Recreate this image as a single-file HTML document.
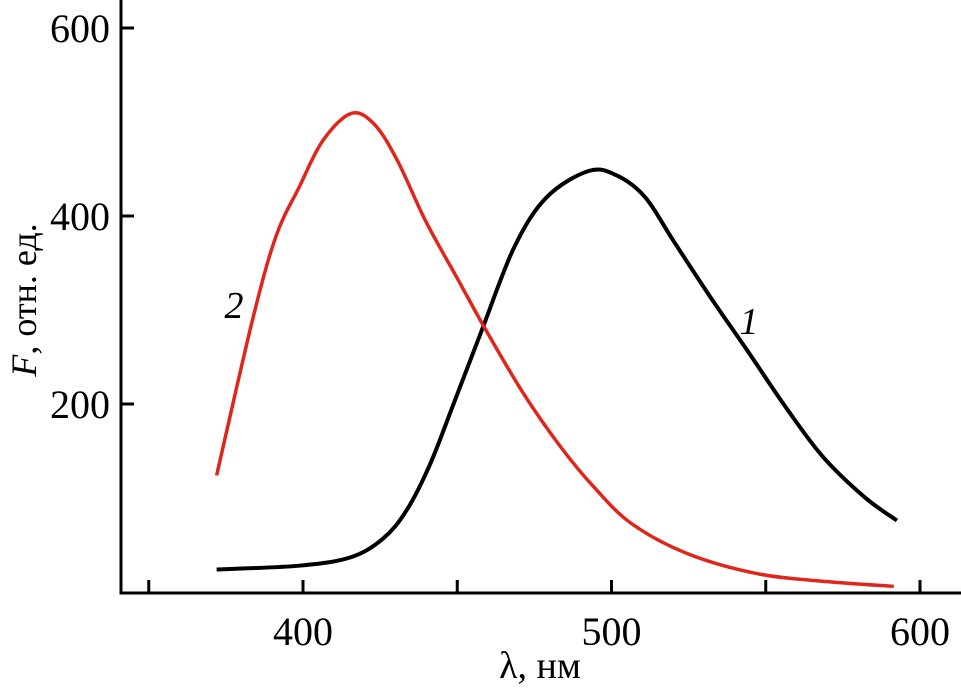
<!DOCTYPE html>
<html><head><meta charset="utf-8"><style>
html,body{margin:0;padding:0;background:#fff}
text{font-family:"Liberation Serif",serif;fill:#000}
</style></head><body>
<svg id="chart" width="961" height="691" viewBox="0 0 961 691" xmlns="http://www.w3.org/2000/svg">
<g id="axes"></g>
<g id="series"></g>
<text x="234" y="318" font-size="38" font-style="italic" text-anchor="middle">2</text>
<text x="749" y="334" font-size="38" font-style="italic" text-anchor="middle">1</text>
<text x="540" y="678" font-size="38" text-anchor="middle">λ, нм</text>
<text transform="translate(36,300) rotate(-90)" font-size="36" text-anchor="middle"><tspan font-style="italic">F</tspan>, отн. ед.</text>
</svg>
<script>
const xTicks=[400,500,600];
const xMinorTicks=[350,450,550];
const yTicks=[200,400,600];
const lambda1=[372,398.8,415.5,426,433.6,441.2,448.8,457.9,468.5,479,492.7,501.8,510.9,520,532,544,556.4,568.5,582,592.5];
const f1=[24,28,37,57,87,136,200,278,367,420,448,443,420,374,314,257,197,144,101,76];
const lambda2=[372,383.6,391.2,398.8,406.4,415.5,423,430.6,439.7,450.3,459.4,471.5,483.6,494.2,506.4,524.5,547.3,570,591.5];
const f2=[124,289,378,431,480,509,498,459,395,332,278,211,154,112,73,41,19.5,11,6];
const NS="http://www.w3.org/2000/svg";
const X=v=>303+(v-400)*3.085;
const Y=v=>592-v*0.94;
const axes=document.getElementById('axes');
function mk(tag,attrs,parent){const e=document.createElementNS(NS,tag);for(const k in attrs)e.setAttribute(k,attrs[k]);parent.appendChild(e);return e;}
let l=mk('path',{d:'M121,0 V593 H961',fill:'none',stroke:'#000','stroke-width':3},axes);


xTicks.concat(xMinorTicks).forEach(v=>{
  const t=mk('line',{x1:X(v),x2:X(v),y1:580,y2:593,stroke:'#000','stroke-width':3},axes);
  
  
});
xTicks.forEach(v=>{
  const t=mk('text',{x:X(v),y:645,'font-size':40,'text-anchor':'middle'},axes);t.textContent=v;
  
  
});
yTicks.forEach(v=>{
  const t=mk('line',{x1:121,x2:134,y1:Y(v),y2:Y(v),stroke:'#000','stroke-width':3},axes);
  
  
  const s=mk('text',{x:110,y:Y(v)+14,'font-size':40,'text-anchor':'end'},axes);s.textContent=v;
  
  
});
function smooth(xs,ys){
  const p=xs.map((x,i)=>[X(x),Y(ys[i])]);
  let d='M'+p[0][0]+','+p[0][1];
  for(let i=0;i<p.length-1;i++){
    const p0=p[Math.max(0,i-1)],p1=p[i],p2=p[i+1],p3=p[Math.min(p.length-1,i+2)];
    const c1=[p1[0]+(p2[0]-p0[0])/6,p1[1]+(p2[1]-p0[1])/6];
    const c2=[p2[0]-(p3[0]-p1[0])/6,p2[1]-(p3[1]-p1[1])/6];
    d+=` C${c1[0]},${c1[1]} ${c2[0]},${c2[1]} ${p2[0]},${p2[1]}`;
  }
  return d;
}
const ser=document.getElementById('series');
const c1=mk('path',{d:smooth(lambda1,f1),fill:'none',stroke:'#000','stroke-width':4},ser);


const c2=mk('path',{d:smooth(lambda2,f2),fill:'none',stroke:'#e0261b','stroke-width':3.5},ser);


</script>
</body></html>
